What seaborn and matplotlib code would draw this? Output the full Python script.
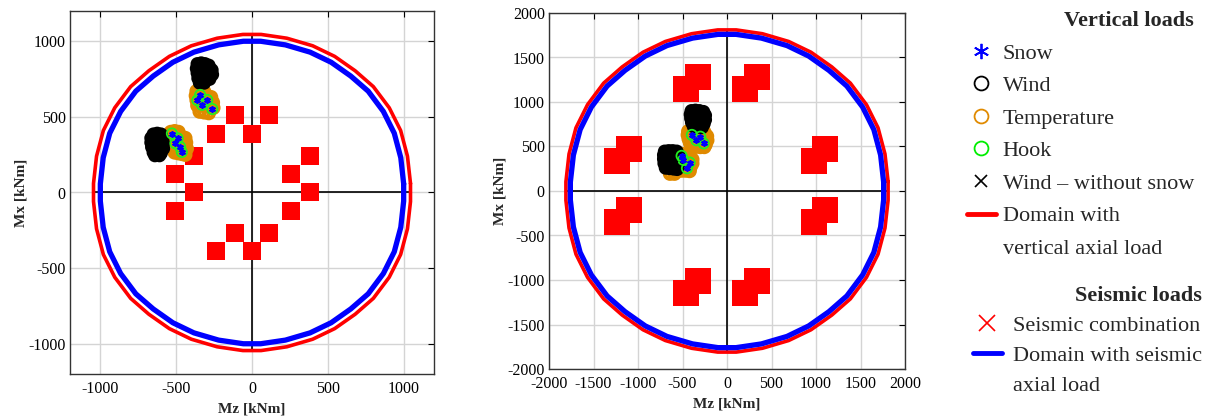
import matplotlib
matplotlib.use('Agg')

import numpy as np
import matplotlib.pyplot as plt
from matplotlib.lines import Line2D
import seaborn as sns

# ---------------- domains (polygon vertices) ----------------
left_red_x = [1045, 1025, 980, 905, 800, 680, 545, 400, 230, 60,
              -60, -230, -400, -545, -680, -800, -905, -980, -1025, -1045,
              -1045, -1025, -980, -905, -800, -680, -545, -400, -230, -60,
              60, 230, 400, 545, 680, 800, 905, 980, 1025, 1045, 1045]
left_red_y = [60, 240, 410, 560, 700, 805, 900, 970, 1020, 1045,
              1045, 1020, 970, 900, 805, 700, 560, 410, 240, 60,
              -60, -240, -410, -560, -700, -805, -900, -970, -1020, -1045,
              -1045, -1020, -970, -900, -805, -700, -560, -410, -240, -60, 60]
left_blue_x = [1000, 981, 938, 866, 766, 651, 522, 383, 220, 57,
               -57, -220, -383, -522, -651, -766, -866, -938, -981, -1000,
               -1000, -981, -938, -866, -766, -651, -522, -383, -220, -57,
               57, 220, 383, 522, 651, 766, 866, 938, 981, 1000, 1000]
left_blue_y = [57, 230, 392, 536, 670, 770, 861, 928, 976, 1000,
               1000, 976, 928, 861, 770, 670, 536, 392, 230, 57,
               -57, -230, -392, -536, -670, -770, -861, -928, -976, -1000,
               -1000, -976, -928, -861, -770, -670, -536, -392, -230, -57, 57]

right_red_x = [1810, 1775, 1697, 1567, 1386, 1178, 944, 693, 398, 104,
               -104, -398, -693, -944, -1178, -1386, -1567, -1697, -1775, -1810,
               -1810, -1775, -1697, -1567, -1386, -1178, -944, -693, -398, -104,
               104, 398, 693, 944, 1178, 1386, 1567, 1697, 1775, 1810, 1810]
right_red_y = [104, 416, 710, 970, 1212, 1394, 1559, 1680, 1767, 1810,
               1810, 1767, 1680, 1559, 1394, 1212, 970, 710, 416, 104,
               -104, -416, -710, -970, -1212, -1394, -1559, -1680, -1767, -1810,
               -1810, -1767, -1680, -1559, -1394, -1212, -970, -710, -416, -104, 104]
right_blue_x = [1760, 1726, 1650, 1524, 1347, 1145, 918, 674, 387, 101,
                -101, -387, -674, -918, -1145, -1347, -1524, -1650, -1726, -1760,
                -1760, -1726, -1650, -1524, -1347, -1145, -918, -674, -387, -101,
                101, 387, 674, 918, 1145, 1347, 1524, 1650, 1726, 1760, 1760]
right_blue_y = [101, 404, 690, 943, 1179, 1356, 1516, 1634, 1718, 1760,
                1760, 1718, 1634, 1516, 1356, 1179, 943, 690, 404, 101,
                -101, -404, -690, -943, -1179, -1356, -1516, -1634, -1718, -1760,
                -1760, -1718, -1634, -1516, -1356, -1179, -943, -690, -404, -101, 101]

left_cross = [-1045, 1045]
right_cross = [-1810, 1810]

# ---------------- seismic combinations (block centres) ----------------
left_seis_x = [-505, -380, -380, -505, 255, 380, 255, 380, -115, 115, -240, 0, -115, 115, -240, 0]
left_seis_y = [120, 240, 0, -120, 120, 240, -120, 0, 515, 515, 390, 390, -270, -270, -390, -390]
right_seis_x = [-460, -330, 200, 335, -1240, -1105, 975, 1105, -1240, -1105, 975, 1105, -460, -330, 200, 335]
right_seis_y = [1150, 1280, 1150, 1280, 340, 470, 340, 470, -350, -215, -350, -215, -1145, -1010, -1145, -1010]

# ---------------- vertical loads, left panel ----------------
left_wind_x = [-360, -335, -310, -285, -365, -340, -315, -290, -265, -360, -335, -310, -285, -262, -355, -330, -305, -280, -345, -315,
               -650, -625, -600, -665, -640, -615, -590, -665, -640, -615, -585, -660, -635, -610, -585, -650, -625, -600, -640, -610]
left_wind_y = [850, 855, 850, 840, 820, 825, 820, 815, 810, 790, 790, 785, 785, 780, 755, 755, 750, 750, 725, 725,
               385, 390, 385, 360, 360, 360, 355, 330, 330, 325, 325, 300, 295, 295, 290, 265, 265, 260, 245, 245]
left_temp_x = [-365, -340, -315, -370, -345, -320, -295, -270, -365, -340, -310, -285, -258, -360, -335, -305, -275, -255, -345, -315, -285,
               -535, -510, -485, -540, -515, -490, -465, -440, -535, -510, -485, -460, -435, -525, -500, -475, -450, -430, -510, -485, -460, -440]
left_temp_y = [670, 675, 665, 640, 645, 640, 635, 630, 610, 610, 605, 600, 595, 575, 575, 570, 565, 560, 535, 530, 525,
               400, 405, 400, 375, 375, 370, 365, 360, 340, 340, 335, 330, 330, 305, 300, 300, 295, 290, 265, 260, 255, 250]
left_hook_x = [-342, -295, -262, -330, -360, -528, -490, -474, -463, -505]
left_hook_y = [645, 612, 552, 580, 610, 390, 358, 302, 268, 325]
left_snow_x = left_hook_x
left_snow_y = left_hook_y
left_nosnow_x = [-330, -300, -630, -610]
left_nosnow_y = [800, 770, 330, 290]

# ---------------- vertical loads, right panel ----------------
right_wind_x = [-400, -355, -310, -265, -410, -365, -320, -275, -245, -405, -360, -315, -270, -245, -395, -350, -305, -260, -375, -325, -280,
                -700, -655, -610, -565, -710, -665, -620, -575, -540, -710, -665, -620, -575, -540, -705, -660, -615, -570, -540, -690, -645, -600, -560]
right_wind_y = [900, 905, 900, 890, 860, 860, 855, 855, 850, 815, 815, 810, 805, 800, 770, 765, 760, 755, 725, 720, 715,
                445, 450, 450, 445, 405, 405, 400, 400, 395, 360, 355, 355, 350, 345, 310, 305, 300, 300, 295, 260, 255, 250, 245]
right_temp_x = [-435, -390, -345, -300, -255, -440, -395, -350, -305, -260, -225, -430, -385, -340, -295, -250, -222,
                -415, -370, -325, -280, -240, -390, -345, -300, -255,
                -555, -510, -465, -420, -560, -515, -470, -425, -390, -555, -510, -465, -420, -390,
                -545, -500, -455, -410, -600, -555, -510, -465, -420, -640, -590]
right_temp_y = [670, 675, 670, 665, 660, 630, 630, 625, 625, 620, 615, 585, 585, 580, 575, 570, 570,
                540, 540, 535, 530, 525, 500, 500, 495, 495,
                410, 415, 410, 405, 370, 370, 365, 360, 355, 325, 325, 320, 315, 310,
                280, 280, 275, 270, 235, 235, 230, 230, 225, 195, 195]
right_hook_x = [-395, -300, -262, -345, -490, -450, -420, -510]
right_hook_y = [630, 610, 535, 570, 350, 255, 320, 395]
right_snow_x = right_hook_x
right_snow_y = right_hook_y
right_nosnow_x = [-330, -290, -650, -600]
right_nosnow_y = [820, 780, 370, 300]

left_ticks = [-1000, -500, 0, 500, 1000]
right_ticks = [-2000, -1500, -1000, -500, 0, 500, 1000, 1500, 2000]

ORANGE = '#e08a00'
GREEN = '#22ee22'
ASTERISK = (6, 2, 0)

sns.set_theme(style='white')
plt.rcParams['font.family'] = ['Liberation Serif', 'DejaVu Serif']
plt.rcParams['axes.unicode_minus'] = False


def draw_panel(ax, d, lim, ticks, seis_size):
    ax.set_axisbelow(True)
    ax.grid(True, color='#d4d4d4', linewidth=1.0)
    ax.plot(d['cross'], [0, 0], color='black', lw=1.2, zorder=1)
    ax.plot([0, 0], d['cross'], color='black', lw=1.2, zorder=1)
    sns.lineplot(x=d['red_x'], y=d['red_y'], sort=False, estimator=None,
                 color='#ff0000', lw=2.6, ax=ax, zorder=2)
    sns.lineplot(x=d['blue_x'], y=d['blue_y'], sort=False, estimator=None,
                 color='#0000ff', lw=3.8, ax=ax, zorder=2)
    sns.scatterplot(x=d['seis_x'], y=d['seis_y'], marker='s', s=seis_size,
                    color='#ff0000', linewidth=0, ax=ax, zorder=3)
    sns.scatterplot(x=d['temp_x'], y=d['temp_y'], marker='o', s=55, facecolors='none',
                    edgecolor=ORANGE, linewidth=3.0, ax=ax, zorder=4)
    sns.scatterplot(x=d['wind_x'], y=d['wind_y'], marker='o', s=50, facecolors='none',
                    edgecolor='black', linewidth=2.8, ax=ax, zorder=5)
    sns.scatterplot(x=d['hook_x'], y=d['hook_y'], marker='o', s=55, facecolors='none',
                    edgecolor=GREEN, linewidth=1.3, ax=ax, zorder=6)
    sns.scatterplot(x=d['snow_x'], y=d['snow_y'], marker=ASTERISK, s=12,
                    color='#0000ff', linewidth=1.5, ax=ax, zorder=7)
    sns.scatterplot(x=d['nosnow_x'], y=d['nosnow_y'], marker='x', s=25,
                    color='black', linewidth=1.0, ax=ax, zorder=8)

    ax.set_xlim(-lim, lim)
    ax.set_ylim(-lim, lim)
    ax.set_xticks(ticks)
    ax.set_yticks(ticks)
    ax.tick_params(direction='in', top=True, right=True, length=4, width=0.8,
                   labelsize=11.5, colors='black')
    ax.tick_params(axis='x', pad=5)
    ax.tick_params(axis='y', pad=3)
    for s in ax.spines.values():
        s.set_color('#333333')
        s.set_linewidth(1.0)
    ax.set_xlabel('Mz [kNm]', fontsize=11, fontweight='bold', labelpad=4)
    ax.set_ylabel('Mx [kNm]', fontsize=11, fontweight='bold', labelpad=1)


fig = plt.figure(figsize=(12.11, 4.19), dpi=100)
ax1 = fig.add_axes([70 / 1211, 45 / 419, 364 / 1211, 363 / 419])
ax2 = fig.add_axes([549 / 1211, 50 / 419, 356 / 1211, 356 / 419])

left = dict(cross=left_cross, red_x=left_red_x, red_y=left_red_y, blue_x=left_blue_x, blue_y=left_blue_y,
            seis_x=left_seis_x, seis_y=left_seis_y, wind_x=left_wind_x, wind_y=left_wind_y,
            temp_x=left_temp_x, temp_y=left_temp_y, hook_x=left_hook_x, hook_y=left_hook_y,
            snow_x=left_snow_x, snow_y=left_snow_y, nosnow_x=left_nosnow_x, nosnow_y=left_nosnow_y)
right = dict(cross=right_cross, red_x=right_red_x, red_y=right_red_y, blue_x=right_blue_x, blue_y=right_blue_y,
             seis_x=right_seis_x, seis_y=right_seis_y, wind_x=right_wind_x, wind_y=right_wind_y,
             temp_x=right_temp_x, temp_y=right_temp_y, hook_x=right_hook_x, hook_y=right_hook_y,
             snow_x=right_snow_x, snow_y=right_snow_y, nosnow_x=right_nosnow_x, nosnow_y=right_nosnow_y)

draw_panel(ax1, left, 1200, left_ticks, 160)
draw_panel(ax2, right, 2000, right_ticks, 330)

# ---------------- legends ----------------
blank = Line2D([], [], color='none')
vert_handles = [
    Line2D([], [], marker=ASTERISK, color='#0000ff', ls='none', markersize=11, mew=1.3),
    Line2D([], [], marker='o', mfc='none', mec='black', ls='none', markersize=10, mew=1.3),
    Line2D([], [], marker='o', mfc='none', mec=ORANGE, ls='none', markersize=10, mew=1.3),
    Line2D([], [], marker='o', mfc='none', mec='#00ee00', ls='none', markersize=10, mew=1.3),
    Line2D([], [], marker='x', color='black', ls='none', markersize=9, mew=1.2),
    Line2D([], [], color='#ff0000', lw=3.5),
    blank,
]
vert_labels = ['Snow', 'Wind', 'Temperature', 'Hook', 'Wind \u2013 without snow',
               'Domain with', 'vertical axial load']
leg1 = fig.legend(vert_handles, vert_labels, loc='upper left', bbox_to_anchor=(967 / 1211, 1 - 11 / 419),
                  frameon=False, fontsize=16, title='Vertical loads', alignment='right',
                  title_fontproperties={'weight': 'bold', 'size': 16},
                  handlelength=1.3, handletextpad=0.3, labelspacing=0.54, borderpad=0, borderaxespad=0)

seis_handles = [
    Line2D([], [], marker='x', color='#ff0000', ls='none', markersize=11, mew=1.2),
    Line2D([], [], color='#0000ff', lw=3.5),
    blank,
]
seis_labels = ['Seismic combination', 'Domain with seismic', 'axial load']
leg2 = fig.legend(seis_handles, seis_labels, loc='upper left', bbox_to_anchor=(973 / 1211, 1 - 286 / 419),
                  frameon=False, fontsize=16, title='Seismic loads', alignment='right',
                  title_fontproperties={'weight': 'bold', 'size': 16},
                  handlelength=1.3, handletextpad=0.5, labelspacing=0.42, borderpad=0, borderaxespad=0)

fig.savefig('out.png', dpi=100)
